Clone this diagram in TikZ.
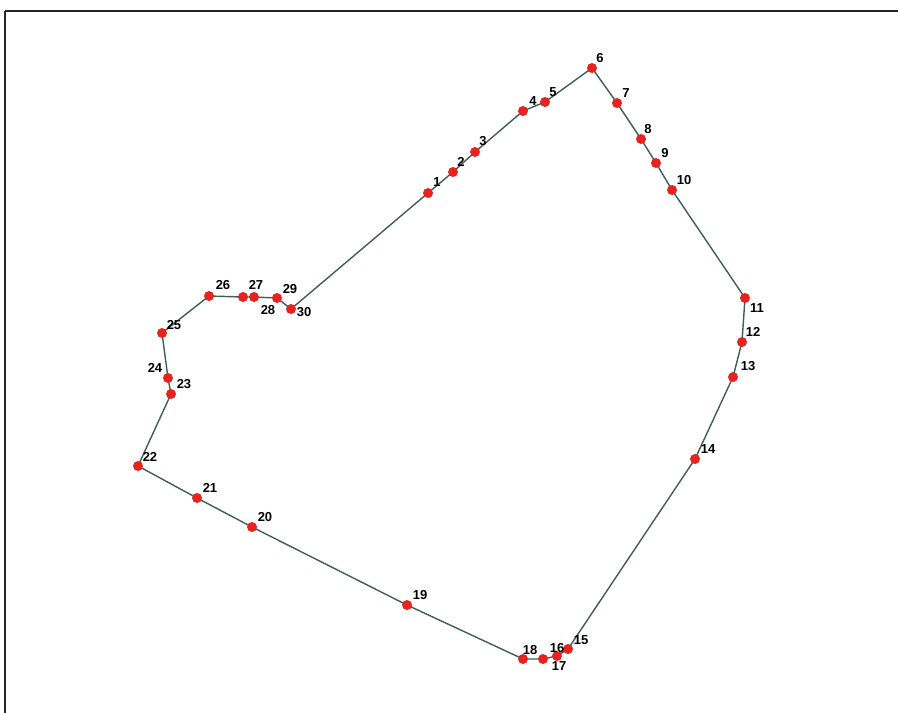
\documentclass[tikz,border=0pt]{standalone}
\usepackage{fontspec}
\setmainfont{Liberation Sans}
\definecolor{edgec}{HTML}{3F5F55}
\definecolor{dotc}{HTML}{E8231E}
\begin{document}
\begin{tikzpicture}[x=1pt,y=-1pt,
  edge/.style={draw=edgec,line width=1.4pt},
  dot/.style={circle,fill=dotc,inner sep=0pt,minimum size=10pt},
  lbl/.style={font=\fontsize{13}{13}\selectfont\bfseries,text=black,inner sep=0pt},
  frame/.style={draw=black!85,line width=2.2pt}]
\useasboundingbox (0,0) rectangle (898,713);
\fill[white] (0,0) rectangle (898,713);
\draw[frame] (5,11) -- (905,11);
\draw[frame] (5,11) -- (5,720);
% points
\coordinate (p1) at (428,193);
\coordinate (p2) at (453,172);
\coordinate (p3) at (475,152);
\coordinate (p4) at (523,111);
\coordinate (p5) at (545,102);
\coordinate (p6) at (592,68);
\coordinate (p7) at (617,103);
\coordinate (p8) at (641,139);
\coordinate (p9) at (656,163);
\coordinate (p10) at (672,190);
\coordinate (p11) at (745,298);
\coordinate (p12) at (742,342);
\coordinate (p13) at (733,377);
\coordinate (p14) at (695,459);
\coordinate (p15) at (568,649);
\coordinate (p16) at (557,656);
\coordinate (p17) at (543,659);
\coordinate (p18) at (523,659);
\coordinate (p19) at (407,605);
\coordinate (p20) at (252,527);
\coordinate (p21) at (197,498);
\coordinate (p22) at (138,466);
\coordinate (p23) at (171,394);
\coordinate (p24) at (168,378);
\coordinate (p25) at (162,333);
\coordinate (p26) at (209,296);
\coordinate (p27) at (243,297);
\coordinate (p28) at (254,297);
\coordinate (p29) at (277,298);
\coordinate (p30) at (291,309);
% polygon
\draw[edge] (p1) -- (p2) -- (p3) -- (p4) -- (p5) -- (p6) -- (p7) -- (p8) -- (p9) -- (p10)
  -- (p11) -- (p12) -- (p13) -- (p14) -- (p15) -- (p16) -- (p17) -- (p18) -- (p19) -- (p20)
  -- (p21) -- (p22) -- (p23) -- (p24) -- (p25) -- (p26) -- (p27) -- (p28) -- (p29) -- (p30) -- (p1);
% dots
\foreach \i in {1,...,30} { \node[dot] (d\i) at (p\i) {}; }
% labels
\node[lbl] (l1) at (437,182) {1};
\node[lbl] (l2) at (461,162) {2};
\node[lbl] (l3) at (483,141) {3};
\node[lbl] (l4) at (533,101) {4};
\node[lbl] (l5) at (553,92) {5};
\node[lbl] (l6) at (600,58) {6};
\node[lbl] (l7) at (626,93) {7};
\node[lbl] (l8) at (648,129) {8};
\node[lbl] (l9) at (665,153) {9};
\node[lbl] (l10) at (684,180) {10};
\node[lbl] (l11) at (757,308) {11};
\node[lbl] (l12) at (753,332) {12};
\node[lbl] (l13) at (748,366) {13};
\node[lbl] (l14) at (708,449) {14};
\node[lbl] (l15) at (581,640) {15};
\node[lbl] (l16) at (557,648) {16};
\node[lbl] (l17) at (559,666) {17};
\node[lbl] (l18) at (530,650) {18};
\node[lbl] (l19) at (420,595) {19};
\node[lbl] (l20) at (265,517) {20};
\node[lbl] (l21) at (210,488) {21};
\node[lbl] (l22) at (150,457) {22};
\node[lbl] (l23) at (184,384) {23};
\node[lbl] (l24) at (155,368) {24};
\node[lbl] (l25) at (174,325) {25};
\node[lbl] (l26) at (223,285) {26};
\node[lbl] (l27) at (256,285) {27};
\node[lbl] (l28) at (268,310) {28};
\node[lbl] (l29) at (290,289) {29};
\node[lbl] (l30) at (304,312) {30};
\end{tikzpicture}
\end{document}
